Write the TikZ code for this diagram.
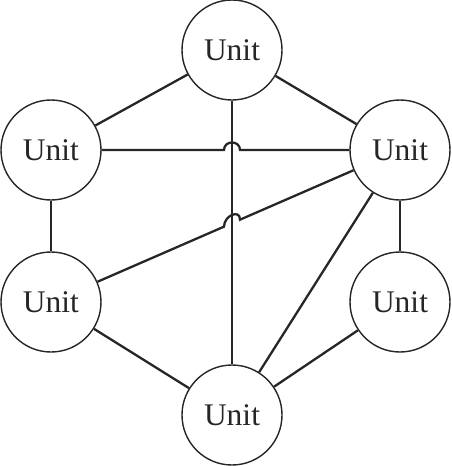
\documentclass[tikz,border=0pt]{standalone}
\usepackage{fontspec}
\setmainfont{Liberation Serif}
\begin{document}
\begin{tikzpicture}[x=1pt,y=-1pt,
  unit/.style={circle,draw=black!85,line width=1.4pt,minimum size=100pt,inner sep=0pt,
    font=\fontsize{31.5}{31.5}\selectfont,text=black!85},
  link/.style={draw=black!85,line width=2.3pt}]
\useasboundingbox (0,0) rectangle (452,466);
\node[unit] (t)  at (232,50)  {Unit};
\node[unit] (ul) at (51,150)  {Unit};
\node[unit] (ur) at (400,150) {Unit};
\node[unit] (ll) at (51,302)  {Unit};
\node[unit] (lr) at (400,302) {Unit};
\node[unit] (b)  at (232,415) {Unit};
\coordinate (h1a) at (224,150);
\coordinate (h1b) at (240,150);
\coordinate (h2a) at (224,226.65);
\coordinate (h2b) at (240,219.68);
\draw[link] (t) -- (ul);
\draw[link] (t) -- (ur);
\draw[link] (t) -- (b);
\draw[link] (ul) -- (ll);
\draw[link] (ur) -- (lr);
\draw[link] (ll) -- (b);
\draw[link] (lr) -- (b);
\draw[link] (ur) -- (b);
\draw[link] (ul) -- (h1a) .. controls +(0,-10) and +(0,-10) .. (h1b) -- (ur);
\draw[link] (ur) -- (h2b) .. controls +(0,-11) and +(0,-11) .. (h2a) -- (ll);
\end{tikzpicture}
\end{document}
